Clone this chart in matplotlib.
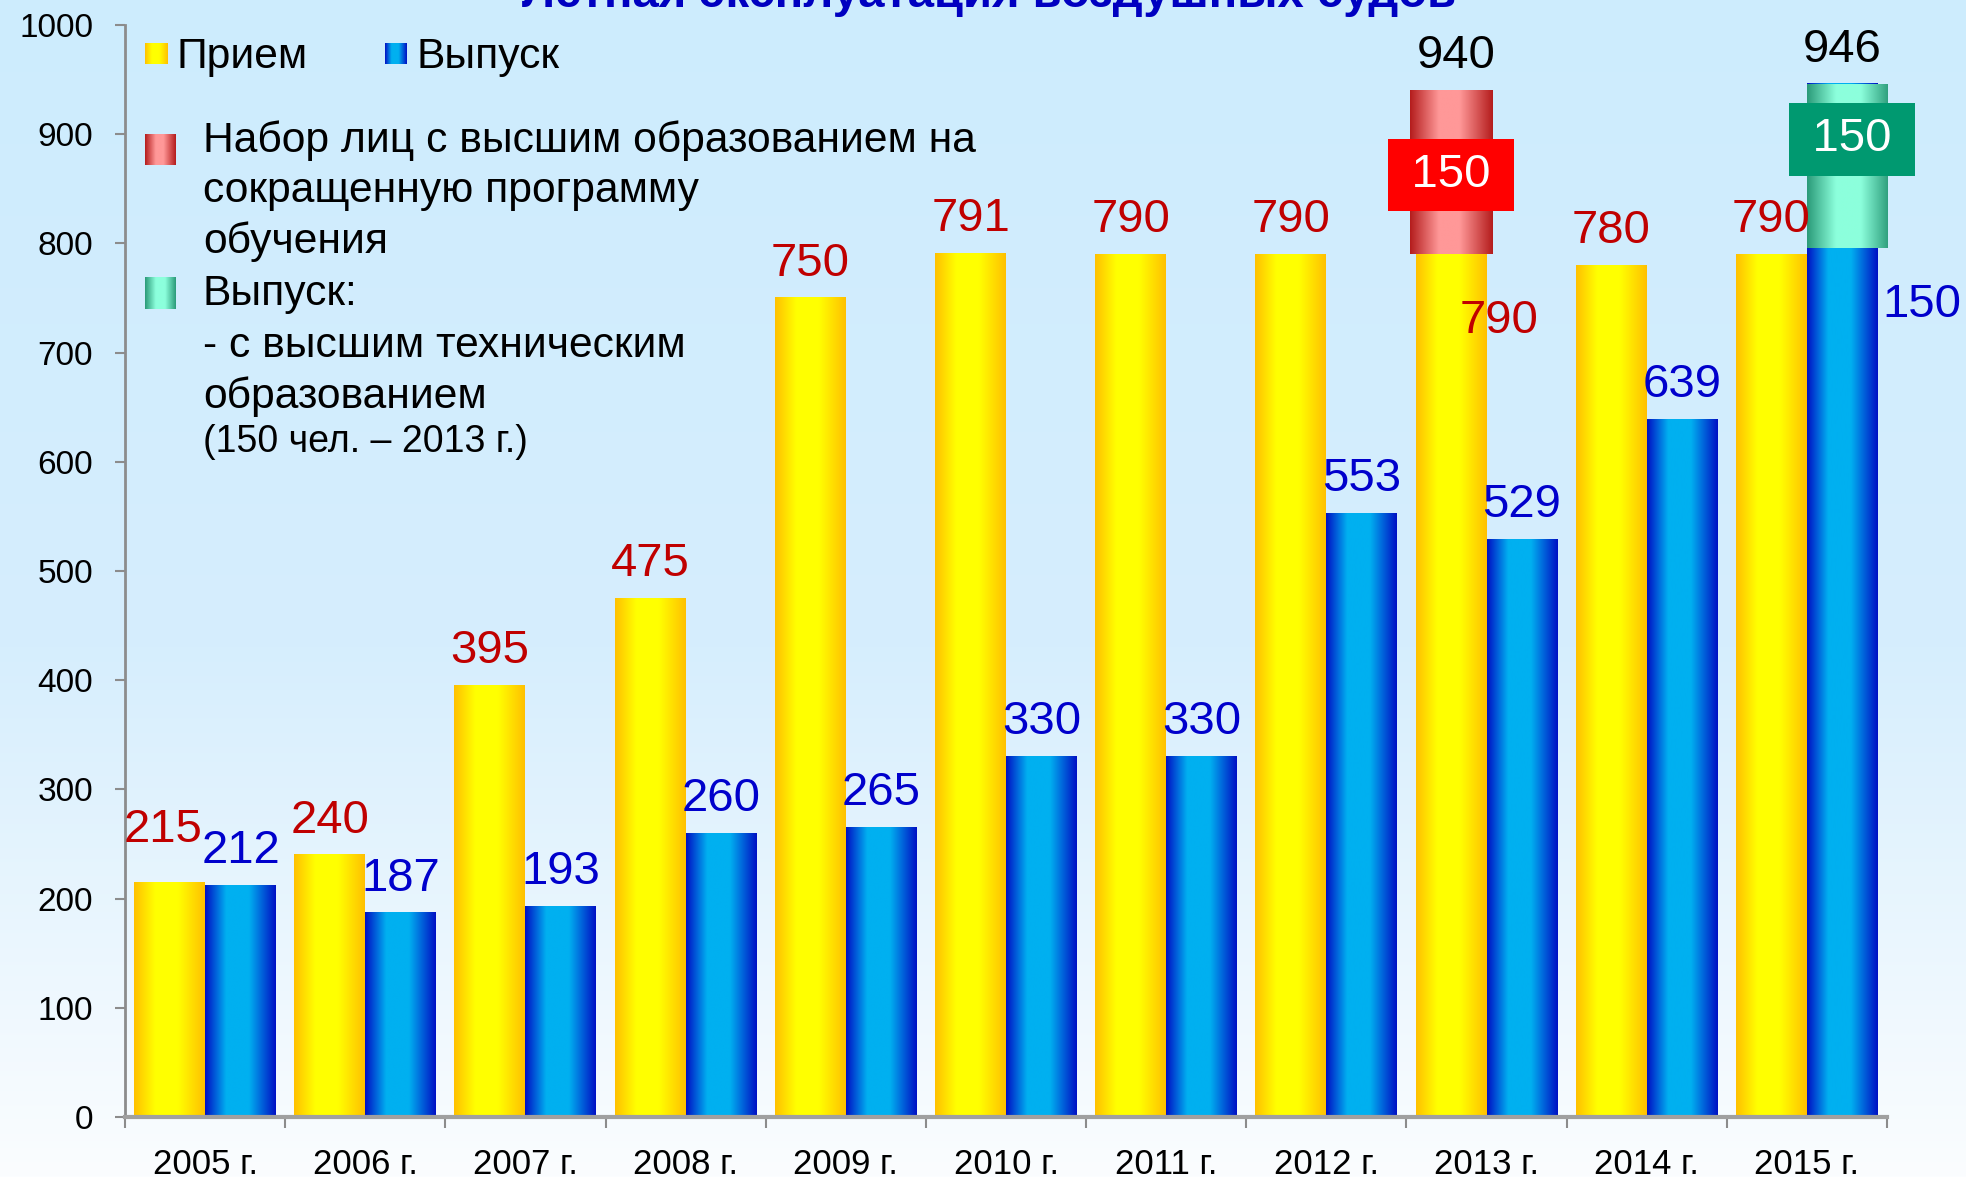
import numpy as np
import matplotlib
matplotlib.use('Agg')
import matplotlib.pyplot as plt
from matplotlib.colors import LinearSegmentedColormap

plt.rcParams['font.family'] = ['Liberation Sans', 'DejaVu Sans']

# data
years = ['2005 г.', '2006 г.', '2007 г.', '2008 г.', '2009 г.', '2010 г.',
         '2011 г.', '2012 г.', '2013 г.', '2014 г.', '2015 г.']
priem = [215, 240, 395, 475, 750, 791, 790, 790, 790, 780, 790]
vypusk = [212, 187, 193, 260, 265, 330, 330, 553, 529, 639, 946]
vypusk_labels = ['212', '187', '193', '260', '265', '330', '330', '553', '529', '639', '150']
nabor_year = 8      # 2013: набор лиц с высшим образованием
nabor_val = 150
nabor_total = 940
tech_year = 10      # 2015: выпуск с высшим техническим
tech_val = 150
tech_total = 946
yticks = list(range(0, 1001, 100))

W, H = 1966, 1177
fig = plt.figure(figsize=(W / 100, H / 100), dpi=100)

# background gradient
bg = fig.add_axes([0, 0, 1, 1])
bg.set_axis_off()
stops = np.array([0.0, 0.55, 1.0])
cols = np.array([[205, 236, 253], [214, 238, 253], [251, 253, 255]]) / 255.
t = np.linspace(0, 1, H)
grad = np.stack([np.interp(t, stops, cols[:, k]) for k in range(3)], axis=-1)
bg.imshow(grad[:, None, :], aspect='auto', extent=[0, 1, 0, 1], origin='upper')
bg.set_xlim(0, 1); bg.set_ylim(0, 1)

def cmap3(name, edge, mid, a=0.3, b=0.62):
    return LinearSegmentedColormap.from_list(name, [(0, edge), (a, mid), (b, mid), (1, edge)])

c_yel = cmap3('yel', '#FFC000', '#FFFF00')
c_blu = cmap3('blu', '#0010C4', '#00B0F0')
c_red = cmap3('red', '#B41C1C', '#FF9898', 0.35, 0.6)
c_tea = cmap3('tea', '#2A9A78', '#8CFFDC', 0.35, 0.65)
g = np.linspace(0, 1, 256).reshape(1, -1)

def paint(ax, bars, cmap, z):
    for b in bars:
        x0, y0 = b.get_x(), b.get_y()
        ax.imshow(g, cmap=cmap, aspect='auto', interpolation='bilinear', zorder=z,
                  extent=(x0, x0 + b.get_width(), y0, y0 + b.get_height()))
        b.set_visible(False)

ax = fig.add_axes([125 / W, 1 - 1117 / H, (1887 - 125) / W, (1117 - 25) / H])
ax.patch.set_alpha(0)

x = np.arange(len(years))
bw = 0.443
by = ax.bar(x - bw / 2, priem, bw)
bb = ax.bar(x + bw / 2, vypusk, bw)
paint(ax, by, c_yel, 2)
paint(ax, bb, c_blu, 2)

# extra segments
rw = 0.512
br = ax.bar([nabor_year - bw / 2], [nabor_val], rw, bottom=[priem[nabor_year]])
paint(ax, br, c_red, 3)
bt = ax.bar([tech_year + rw / 2], [tech_val], rw, bottom=[vypusk[tech_year] - tech_val])
paint(ax, bt, c_tea, 3)

red = '#C00000'
blue = '#0000CC'
fs = 34
for i, v in enumerate(priem):
    dx, dy = 0, 16
    if i == 0:
        dx, dy = -5, 29
    if i == nabor_year:
        ax.annotate(str(v), (i + 0.08, v), xytext=(0, -57), textcoords='offset points',
                    ha='center', va='baseline', fontsize=fs, color=red, zorder=6)
        continue
    ax.annotate(str(v), (i - bw / 2, v), xytext=(dx, dy), textcoords='offset points',
                ha='center', va='baseline', fontsize=fs, color=red, zorder=6)
for i, v in enumerate(vypusk):
    if i == tech_year:
        ax.annotate(vypusk_labels[i], (i + bw / 2, v), xytext=(57, -168),
                    textcoords='offset points', ha='center', va='baseline',
                    fontsize=fs, color=blue, zorder=6)
        continue
    ax.annotate(vypusk_labels[i], (i + bw / 2, v), xytext=(0, 16), textcoords='offset points',
                ha='center', va='baseline', fontsize=fs, color=blue, zorder=6)

# totals and boxed segment labels
ax.annotate(str(nabor_total), (nabor_year, nabor_total), xytext=(-22, 16),
            textcoords='offset points', ha='center', va='baseline', fontsize=fs, color='black')
ax.annotate(str(tech_total), (tech_year + bw / 2, tech_total), xytext=(0, 16),
            textcoords='offset points', ha='center', va='baseline', fontsize=fs, color='black')
ax.annotate('\u2009' + str(nabor_val) + '\u2009', (nabor_year - bw / 2, priem[nabor_year] + nabor_val / 2),
            xytext=(0, -2), textcoords='offset points', ha='center', va='center',
            fontsize=fs, color='white', zorder=7,
            bbox=dict(boxstyle='square,pad=0.3', fc='#FF0000', ec='none'))
ax.annotate('\u2009' + str(tech_val) + '\u2009', (tech_year + rw / 2, vypusk[tech_year] - tech_val / 2),
            xytext=(3, 19), textcoords='offset points', ha='center', va='center',
            fontsize=fs, color='white', zorder=7,
            bbox=dict(boxstyle='square,pad=0.3', fc='#009970', ec='none'))

ax.set_xlim(-0.5, len(years) - 0.5)
ax.set_ylim(0, 1000)
ax.set_yticks(yticks)
ax.set_yticklabels([str(v) for v in yticks])
ax.set_xticks(np.arange(-0.5, len(years), 1))
ax.set_xticklabels([])
ax.set_xticks(x, minor=True)
ax.set_xticklabels(years, minor=True)
for s in ['top', 'right']:
    ax.spines[s].set_visible(False)
ax.spines['left'].set_color('#8C8C8C')
ax.spines['left'].set_linewidth(2)
ax.spines['bottom'].set_color('#A0A0A0')
ax.spines['bottom'].set_linewidth(3)
ax.tick_params(axis='y', length=7, width=1.5, color='#8C8C8C', pad=16, labelsize=24)
ax.tick_params(axis='x', which='major', length=8, width=1.5, color='#8C8C8C')
ax.tick_params(axis='x', which='minor', length=0, pad=22, labelsize=25)

# overlay in pixel coordinates: title remnant and legend
ov = fig.add_axes([0, 0, 1, 1])
ov.set_axis_off()
ov.set_xlim(0, W)
ov.set_ylim(H, 0)
ov.text(989, 7, 'Летная эксплуатация воздушных судов', ha='center', va='baseline',
        fontsize=34, fontweight='bold', color='#0000C0')

def swatch(x0, y0, x1, y1, cmap):
    ov.imshow(g, cmap=cmap, aspect='auto', interpolation='bilinear', extent=(x0, x1, y1, y0))

lf = 30.7
swatch(145, 43, 168, 64, c_yel)
ov.text(177, 68, 'Прием', fontsize=lf, va='baseline')
swatch(385, 43, 407, 64, c_blu)
ov.text(417, 68, 'Выпуск', fontsize=lf, va='baseline')

swatch(145, 134, 176, 165, c_red)
for yb, s in zip([152, 202, 253], ['Набор лиц с высшим образованием на',
                                   'сокращенную программу', 'обучения']):
    ov.text(203, yb, s, fontsize=lf, va='baseline')
swatch(145, 277, 176, 309, c_tea)
for yb, s in zip([305, 357, 408], ['Выпуск:', '- с высшим техническим', 'образованием']):
    ov.text(203, yb, s, fontsize=lf, va='baseline')
ov.text(203, 452, '(150 чел. – 2013 г.)', fontsize=27, va='baseline')
ov.set_xlim(0, W)
ov.set_ylim(H, 0)

fig.savefig('out.png', dpi=100)
